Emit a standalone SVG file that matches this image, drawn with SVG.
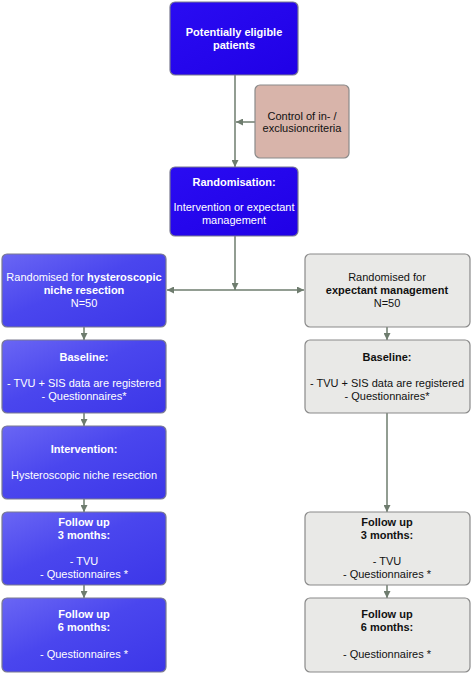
<svg xmlns="http://www.w3.org/2000/svg" width="472" height="674" viewBox="0 0 472 674">
<defs>
<linearGradient id="gBlue" x1="0" y1="0" x2="1" y2="1">
<stop offset="0" stop-color="#6a66f4"/>
<stop offset="0.45" stop-color="#4a46ee"/>
<stop offset="1" stop-color="#3c36e8"/>
</linearGradient>
<linearGradient id="gDark" x1="0" y1="0" x2="1" y2="1">
<stop offset="0" stop-color="#2a0cf2"/>
<stop offset="1" stop-color="#2000e6"/>
</linearGradient>
<marker id="ah" viewBox="0 0 10 10" refX="10" refY="5" markerWidth="7" markerHeight="7" markerUnits="userSpaceOnUse" orient="auto">
<path d="M0,0 L10,5 L0,10 z" fill="#6e7c6e"/>
</marker>
</defs>
<style>
.dark{fill:url(#gDark);stroke:#7a7a90;stroke-width:1.2}
.blue{fill:url(#gBlue);stroke:#7a7a90;stroke-width:1.2}
.grey{fill:#e9e9e7;stroke:#8a8a8a;stroke-width:1.2}
.rose{fill:#d8b4aa;stroke:#8a8a8a;stroke-width:1.2}
text{font-family:"Liberation Sans",Arial,sans-serif;font-size:11px;text-anchor:middle}
.w{fill:#ffffff}
.k{fill:#111111}
.b{font-weight:bold}
.con{stroke:#6e7c6e;stroke-width:1.5;fill:none}
</style>
<g id="connectors">
<line class="con" x1="235" y1="75" x2="235" y2="167" marker-end="url(#ah)"/>
<line class="con" x1="255" y1="122" x2="236" y2="122" marker-end="url(#ah)"/>
<line class="con" x1="235" y1="236" x2="235" y2="290" marker-end="url(#ah)"/>
<line class="con" x1="235" y1="290" x2="167" y2="290" marker-end="url(#ah)"/>
<line class="con" x1="235" y1="290" x2="304" y2="290" marker-end="url(#ah)"/>
<line class="con" x1="84" y1="327" x2="84" y2="340" marker-end="url(#ah)"/>
<line class="con" x1="84" y1="413" x2="84" y2="426" marker-end="url(#ah)"/>
<line class="con" x1="84" y1="499" x2="84" y2="512" marker-end="url(#ah)"/>
<line class="con" x1="84" y1="585" x2="84" y2="598" marker-end="url(#ah)"/>
<line class="con" x1="387" y1="327" x2="387" y2="340" marker-end="url(#ah)"/>
<line class="con" x1="387" y1="413" x2="387" y2="512" marker-end="url(#ah)"/>
<line class="con" x1="387" y1="585" x2="387" y2="598" marker-end="url(#ah)"/>
</g>
<g id="eligible">
<rect class="dark" x="170" y="2" width="128" height="73" rx="5"/>
<text class="w b" x="234" y="36">Potentially eligible</text>
<text class="w b" x="234" y="49">patients</text>
</g>
<g id="control">
<rect class="rose" x="255" y="85" width="94" height="73" rx="5"/>
<text class="k" x="302" y="120">Control of in- /</text>
<text class="k" x="302" y="132">exclusioncriteria</text>
</g>
<g id="randomisation">
<rect class="dark" x="170" y="167" width="128" height="69" rx="5"/>
<text class="w b" x="234" y="186">Randomisation:</text>
<text class="w" x="234" y="211">Intervention or expectant</text>
<text class="w" x="234" y="224">management</text>
</g>
<g id="left-randomised">
<rect class="blue" x="2" y="254" width="164" height="73" rx="5"/>
<text class="w" x="84" y="281">Randomised for <tspan class="b">hysteroscopic</tspan></text>
<text class="w b" x="84" y="294">niche resection</text>
<text class="w" x="84" y="307">N=50</text>
</g>
<g id="left-baseline">
<rect class="blue" x="2" y="340" width="164" height="73" rx="5"/>
<text class="w b" x="84" y="361">Baseline:</text>
<text class="w" x="84" y="387">- TVU + SIS data are registered</text>
<text class="w" x="84" y="400">- Questionnaires*</text>
</g>
<g id="left-intervention">
<rect class="blue" x="2" y="426" width="164" height="73" rx="5"/>
<text class="w b" x="84" y="453">Intervention:</text>
<text class="w" x="84" y="479">Hysteroscopic niche resection</text>
</g>
<g id="left-fu3">
<rect class="blue" x="2" y="512" width="164" height="73" rx="5"/>
<text class="w b" x="84" y="526">Follow up</text>
<text class="w b" x="84" y="539">3 months:</text>
<text class="w" x="84" y="565">- TVU</text>
<text class="w" x="84" y="578">- Questionnaires *</text>
</g>
<g id="left-fu6">
<rect class="blue" x="2" y="598" width="164" height="74" rx="5"/>
<text class="w b" x="84" y="618">Follow up</text>
<text class="w b" x="84" y="631">6 months:</text>
<text class="w" x="84" y="658">- Questionnaires *</text>
</g>
<g id="right-randomised">
<rect class="grey" x="305" y="254" width="165" height="73" rx="5"/>
<text class="k" x="387" y="281">Randomised for</text>
<text class="k b" x="387" y="294">expectant management</text>
<text class="k" x="387" y="307">N=50</text>
</g>
<g id="right-baseline">
<rect class="grey" x="305" y="340" width="165" height="73" rx="5"/>
<text class="k b" x="387" y="361">Baseline:</text>
<text class="k" x="387" y="387">- TVU + SIS data are registered</text>
<text class="k" x="387" y="400">- Questionnaires*</text>
</g>
<g id="right-fu3">
<rect class="grey" x="305" y="512" width="165" height="73" rx="5"/>
<text class="k b" x="387" y="526">Follow up</text>
<text class="k b" x="387" y="539">3 months:</text>
<text class="k" x="387" y="565">- TVU</text>
<text class="k" x="387" y="578">- Questionnaires *</text>
</g>
<g id="right-fu6">
<rect class="grey" x="305" y="598" width="165" height="74" rx="5"/>
<text class="k b" x="387" y="618">Follow up</text>
<text class="k b" x="387" y="631">6 months:</text>
<text class="k" x="387" y="658">- Questionnaires *</text>
</g>
</svg>
